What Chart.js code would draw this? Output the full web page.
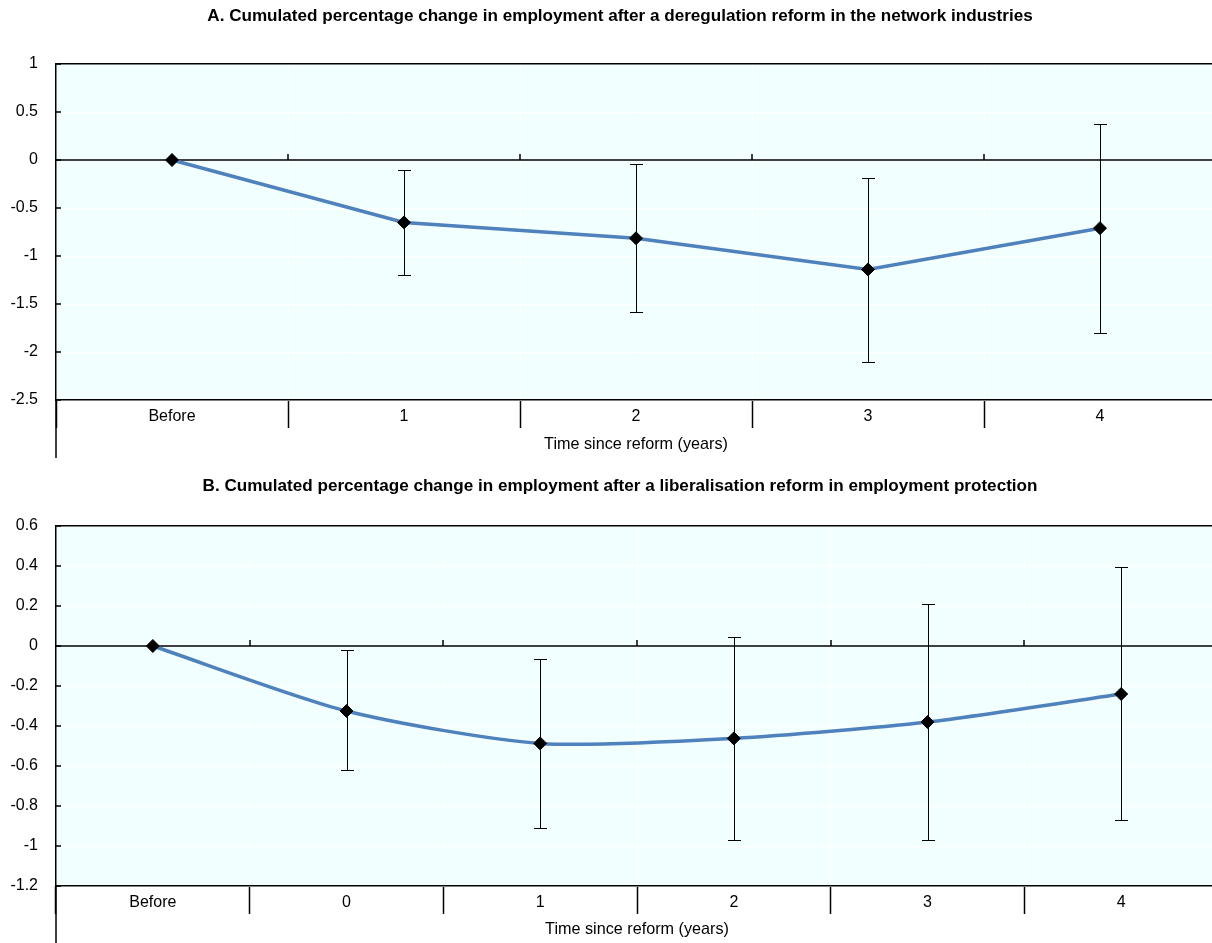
<!DOCTYPE html>
<html>
<head>
<meta charset="utf-8">
<script src="https://cdn.jsdelivr.net/npm/chart.js@4.4.1/dist/chart.umd.min.js"></script>
<style>
  html, body { margin:0; padding:0; background:#fff; overflow:hidden; width:1212px; height:943px; }
  .wrap { position:absolute; left:0; }
  canvas { display:block; }
</style>
</head>
<body>
<div class="wrap" style="top:0"><canvas id="cA" width="1240" height="458"></canvas></div>
<div class="wrap" style="top:462px"><canvas id="cB" width="1240" height="481"></canvas></div>
<script>
// ---------------- DATA ----------------
const titleA = 'A. Cumulated percentage change in employment after a deregulation reform in the network industries';
const titleB = 'B. Cumulated percentage change in employment after a liberalisation reform in employment protection';
const axisTitle = 'Time since reform (years)';

const categoriesA = ['Before', '1', '2', '3', '4'];
const valuesA     = [0, -0.65, -0.815, -1.14, -0.71];
const lowerA      = [null, -1.195, -1.585, -2.10, -1.80];
const upperA      = [null, -0.10, -0.04, -0.19, 0.378];
const yRangeA     = [-2.5, 1, 0.5];   // min, max, step

const categoriesB = ['Before', '0', '1', '2', '3', '4'];
const valuesB     = [0, -0.325, -0.487, -0.462, -0.38, -0.24];
const lowerB      = [null, -0.62, -0.908, -0.97, -0.97, -0.87];
const upperB      = [null, -0.02, -0.063, 0.045, 0.212, 0.395];
const yRangeB     = [-1.2, 0.6, 0.2];

// ---------------- FONTS ----------------
function hasFont(name) {
  const c = document.createElement('canvas').getContext('2d');
  const t = 'Cumulated percentage change 0123 WwMm';
  c.font = '40px monospace'; const a = c.measureText(t).width;
  c.font = '40px "' + name + '", monospace'; const b = c.measureText(t).width;
  c.font = '40px serif'; const a2 = c.measureText(t).width;
  c.font = '40px "' + name + '", serif'; const b2 = c.measureText(t).width;
  return a !== b || a2 !== b2;
}
const narrow = ['Liberation Sans Narrow', 'Arial Narrow'].find(hasFont);
const FAMILY = narrow ? '"' + narrow + '", "Liberation Sans", Arial, sans-serif' : '"Liberation Sans", Arial, sans-serif';
const mctx = document.createElement('canvas').getContext('2d');
function sizeFor(text, weight, target) {
  mctx.font = weight + ' 100px ' + FAMILY;
  return Math.round(target / mctx.measureText(text).width * 1000) / 10;
}
const titleSize = sizeFor(titleA, 'bold', 828);
const tickSize = sizeFor('Before', 'normal', 47);
const axisTitleSize = sizeFor(axisTitle, 'normal', 184);

Chart.defaults.color = '#000';
Chart.defaults.font.family = FAMILY;

// ---------------- PLUGIN ----------------
const decor = {
  id: 'decor',
  beforeDraw(chart) {
    const {ctx, chartArea: a} = chart;
    ctx.save();
    ctx.fillStyle = '#F2FFFF';
    ctx.fillRect(a.left, a.top, a.right - a.left, a.bottom - a.top);
    ctx.restore();
  },
  beforeDatasetsDraw(chart, args, opts) {
    const {ctx, chartArea: a, scales: {x, y}} = chart;
    ctx.save();
    ctx.strokeStyle = '#000';
    ctx.lineWidth = 1.5;
    // inner y ticks
    y.ticks.forEach(t => {
      const py = Math.round(y.getPixelForValue(t.value));
      ctx.beginPath(); ctx.moveTo(a.left, py); ctx.lineTo(a.left + 5, py); ctx.stroke();
    });
    // zero line
    const z = Math.round(y.getPixelForValue(0));
    ctx.beginPath(); ctx.moveTo(a.left, z); ctx.lineTo(a.right, z); ctx.stroke();
    // up ticks at category boundaries
    for (let i = 0; i < x.ticks.length - 1; i++) {
      const bx = Math.round((x.getPixelForTick(i) + x.getPixelForTick(i + 1)) / 2);
      ctx.beginPath(); ctx.moveTo(bx, z); ctx.lineTo(bx, z - 6); ctx.stroke();
    }
    // left axis extension below the plot
    ctx.beginPath(); ctx.moveTo(a.left, a.bottom); ctx.lineTo(a.left, chart.height); ctx.stroke();
    // error bars
    ctx.lineWidth = 1;
    opts.lower.forEach((lo, i) => {
      const hi = opts.upper[i];
      if (lo == null || hi == null) return;
      const px = Math.round(x.getPixelForValue(i)) + 0.5;
      const p1 = Math.round(y.getPixelForValue(lo)) + 0.5;
      const p2 = Math.round(y.getPixelForValue(hi)) + 0.5;
      ctx.beginPath();
      ctx.moveTo(px, p1); ctx.lineTo(px, p2);
      ctx.moveTo(px - 6.5, p1); ctx.lineTo(px + 6.5, p1);
      ctx.moveTo(px - 6.5, p2); ctx.lineTo(px + 6.5, p2);
      ctx.stroke();
    });
    ctx.restore();
  }
};

// ---------------- BUILD ----------------
function build(id, cfg) {
  const lh = titleSize * 1.2;
  const tPadTop = cfg.titleCenter - lh / 2;
  const tPadBottom = cfg.areaTop - tPadTop - lh;
  const tickLh = tickSize * 1.2;
  const axLh = axisTitleSize * 1.2;
  const [ymin, ymax, ystep] = cfg.yRange;
  return new Chart(document.getElementById(id), {
    type: 'line',
    data: {
      labels: cfg.categories,
      datasets: [{
        data: cfg.values,
        borderColor: '#4F81BD',
        borderWidth: 3.5,
        tension: cfg.tension,
        pointStyle: 'rectRot',
        pointRadius: 6.5,
        pointBackgroundColor: '#000',
        pointBorderColor: '#000',
        pointBorderWidth: 1,
        clip: false,
        yAxisID: 'y'
      }]
    },
    options: {
      responsive: false,
      devicePixelRatio: 1,
      animation: false,
      events: [],
      layout: { padding: 0 },
      plugins: {
        legend: { display: false },
        tooltip: { enabled: false },
        title: {
          display: true,
          text: cfg.title,
          color: '#000',
          font: { size: titleSize, weight: 'bold', family: FAMILY, lineHeight: 1.2 },
          padding: { top: tPadTop, bottom: tPadBottom }
        },
        decor: { lower: cfg.lower, upper: cfg.upper }
      },
      scales: {
        x: {
          type: 'category',
          offset: true,
          grid: {
            offset: true,
            color: '#FFFFFF',
            lineWidth: 1,
            drawTicks: true,
            tickLength: 28,
            tickColor: '#000',
            tickWidth: 1.5
          },
          border: { display: true, color: '#000', width: 1.5 },
          ticks: {
            font: { size: tickSize, family: FAMILY, lineHeight: 1.2 },
            color: '#000',
            maxRotation: 0,
            autoSkip: false,
            padding: cfg.labelOffset - 28 - tickLh / 2
          },
          title: {
            display: true,
            text: axisTitle,
            color: '#000',
            font: { size: axisTitleSize, family: FAMILY, lineHeight: 1.2 },
            padding: { top: 0, bottom: 13 - axLh / 2 }
          },
          afterFit(s) { s.height = cfg.xHeight; }
        },
        y: {
          position: 'left',
          min: ymin, max: ymax,
          ticks: {
            stepSize: ystep,
            font: { size: tickSize, family: FAMILY, lineHeight: 1.2 },
            color: '#000',
            padding: 18,
            callback: v => String(Math.round(v * 10) / 10)
          },
          grid: {
            drawTicks: false,
            color: c => (c.tick && c.tick.value === ymax) ? '#000' : '#FFFFFF',
            lineWidth: c => (c.tick && c.tick.value === ymax) ? 1.5 : 1
          },
          border: { display: true, color: '#000', width: 1.5 },
          afterFit(s) { s.width = 56; }
        },
        spacer: {
          type: 'linear',
          position: 'right',
          display: true,
          grid: { display: false, drawOnChartArea: false },
          border: { display: false },
          ticks: { display: false },
          afterFit(s) { s.width = cfg.rightGap; }
        }
      }
    },
    plugins: [decor]
  });
}

build('cA', {
  title: titleA, categories: categoriesA, values: valuesA, lower: lowerA, upper: upperA,
  yRange: yRangeA, tension: 0, titleCenter: 16, areaTop: 64, xHeight: 58,
  rightGap: 24, labelOffset: 17
});
build('cB', {
  title: titleB, categories: categoriesB, values: valuesB, lower: lowerB, upper: upperB,
  yRange: yRangeB, tension: 0.25, titleCenter: 24.5, areaTop: 64, xHeight: 57,
  rightGap: 22, labelOffset: 17
});
</script>
</body>
</html>
